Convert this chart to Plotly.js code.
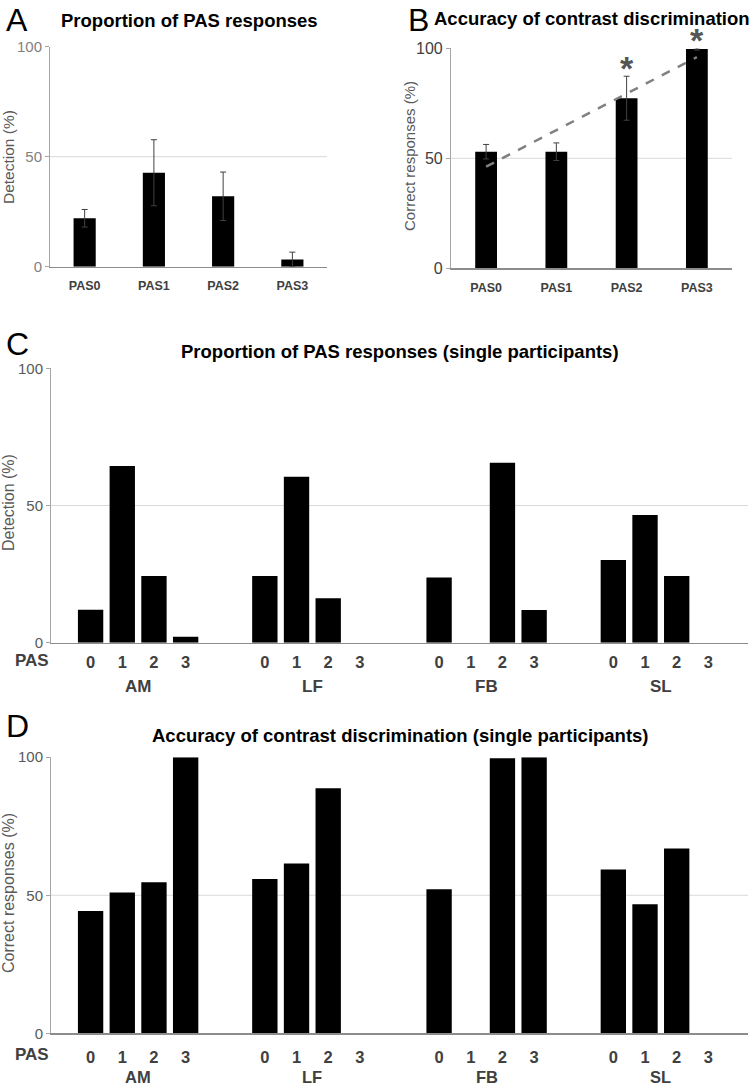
<!DOCTYPE html>
<html>
<head>
<meta charset="utf-8">
<script src="https://cdn.plot.ly/plotly-3.0.1.min.js"></script>
<style>
  html, body { margin: 0; padding: 0; background: #fff; }
  #fig { width: 750px; height: 1088px; }
</style>
</head>
<body>
<div id="fig"></div>
<script>
/* ---------- data ---------- */
const pasCats = ["PAS0", "PAS1", "PAS2", "PAS3"];

// A: proportion of PAS responses (group mean + error)
const detectA = [22, 42.7, 32, 3.3];
const detectErrA = [4, 15, 11, 3.3];

// B: accuracy of contrast discrimination (group mean + error)
const correctB = [53, 53, 77.3, 99.7];
const correctErrB = [3.3, 4, 10, 0.5];
const trendCatsB = ["PAS0", "PAS3"];
const trendB = [46.2, 96];
const starCatsB = ["PAS2", "PAS3"];

// C / D: single participants
const participants = ["AM", "LF", "FB", "SL"];
const pasLevels = ["0", "1", "2", "3"];

const detC_AM = [12, 64.4, 24.3, 2.2];
const detC_LF = [24.3, 60.5, 16.2, 0];
const detC_FB = [23.8, 0, 65.6, 11.9];
const detC_SL = [30.1, 46.5, 24.3, 0];

const accD_AM = [44.3, 51, 54.7, 100];
const accD_LF = [55.9, 61.5, 88.8, null];
const accD_FB = [52.2, null, 99.6, 100];
const accD_SL = [59.3, 46.7, 66.9, null];

/* ---------- helpers ---------- */
const FONT = "Liberation Sans, Arial, sans-serif";
const GROUP_STEP = 5.5; // bar slots per participant group (4 bars + gap)
const PX_PER_UNIT_B = 2.2; // panel B plot height / 100

function groupX(g, k) {
  return g * GROUP_STEP + k;
}

function flatPositions() {
  const xs = [];
  participants.forEach((p, g) => pasLevels.forEach((l, k) => xs.push(groupX(g, k))));
  return xs;
}

const barMarker = { color: "#000", line: { width: 0 } };

/* ---------- traces ---------- */
const traces = [];

// A
traces.push({
  type: "bar", x: pasCats, y: detectA, xaxis: "x", yaxis: "y",
  width: 0.32, marker: barMarker,
  error_y: { type: "data", array: detectErrA, visible: true, color: "#404040", thickness: 1, width: 3 },
  hoverinfo: "skip"
});

// B
traces.push({
  type: "bar", x: pasCats, y: correctB, xaxis: "x2", yaxis: "y2",
  width: 0.31, marker: barMarker,
  error_y: { type: "data", array: correctErrB, visible: true, color: "#404040", thickness: 1, width: 3 },
  hoverinfo: "skip"
});
traces.push({
  type: "scatter", mode: "lines", x: trendCatsB, y: trendB, xaxis: "x2", yaxis: "y2",
  line: { color: "#808080", width: 2.5, dash: "dash" }, hoverinfo: "skip"
});

// C
traces.push({
  type: "bar", x: flatPositions(), y: [].concat(detC_AM, detC_LF, detC_FB, detC_SL),
  xaxis: "x3", yaxis: "y3", width: 0.8, marker: barMarker, hoverinfo: "skip"
});

// D
traces.push({
  type: "bar", x: flatPositions(), y: [].concat(accD_AM, accD_LF, accD_FB, accD_SL),
  xaxis: "x4", yaxis: "y4", width: 0.8, marker: barMarker, hoverinfo: "skip"
});

/* ---------- axes ---------- */
function catAxis(domain, anchor) {
  return {
    domain: domain, anchor: anchor, type: "category",
    showline: true, linecolor: "#8c8c8c", linewidth: 1.5,
    ticks: "", showgrid: false, zeroline: false, fixedrange: true,
    tickfont: { family: FONT, size: 12.5, color: "#404040", weight: "bold" },
    ticklabelstandoff: 7
  };
}

function valAxis(domain, anchor, color, size) {
  return {
    domain: domain, anchor: anchor, range: [0, 100],
    tickvals: [0, 50, 100], ticktext: ["0", "50", "100"],
    showline: true, linecolor: "#a6a6a6", linewidth: 1,
    ticks: "outside", ticklen: 4, tickcolor: "#a6a6a6",
    showgrid: false, zeroline: false, fixedrange: true,
    tickfont: { family: FONT, size: size, color: color }
  };
}

function groupAxis(domain, anchor, standoff) {
  return {
    domain: domain, anchor: anchor, range: [-1.25, 3 * GROUP_STEP + 4.25],
    tickvals: flatPositions(),
    ticktext: [].concat(...participants.map(() => pasLevels)),
    showline: true, linecolor: "#8c8c8c", linewidth: 1.5,
    ticks: "", showgrid: false, zeroline: false, fixedrange: true,
    tickfont: { family: FONT, size: 16.5, color: "#404040", weight: "bold" },
    ticklabelstandoff: standoff
  };
}

/* ---------- annotations ---------- */
const annotations = [];

function paperText(text, px, py, opts) {
  annotations.push(Object.assign({
    text: text, xref: "paper", yref: "paper",
    x: px / 750, y: 1 - py / 1088,
    showarrow: false, xanchor: "center", yanchor: "middle",
    font: { family: FONT, size: 16, color: "#000" }
  }, opts || {}));
}

// panel letters
const letterFont = { family: FONT, size: 32, color: "#000" };
paperText("A", 4, 0, { xanchor: "left", yanchor: "top", font: letterFont });
paperText("B", 406, 0, { xanchor: "left", yanchor: "top", font: letterFont });
paperText("C", 4, 344, { xanchor: "left", font: letterFont });
paperText("D", 4, 726, { xanchor: "left", font: letterFont });

// titles
const titleFont = { family: FONT, size: 18.5, color: "#000", weight: "bold" };
paperText("Proportion of PAS responses", 189, 21, { font: titleFont });
paperText("Accuracy of contrast discrimination", 592, 19, { font: titleFont });
paperText("Proportion of PAS responses (single participants)", 400, 352, { font: titleFont });
paperText("Accuracy of contrast discrimination (single participants)", 400, 735, { font: titleFont });

// y-axis titles
const ylabFont = { family: FONT, size: 16, color: "#595959" };
paperText("Detection (%)", 8, 157, { textangle: -90, font: { family: FONT, size: 15.5, color: "#595959" } });
paperText("Correct responses (%)", 410, 156, { textangle: -90, font: { family: FONT, size: 15, color: "#595959" } });
paperText("Detection (%)", 8, 503, { textangle: -90, font: ylabFont });
paperText("Correct responses (%)", 8, 893, { textangle: -90, font: ylabFont });

// "PAS" row labels for C and D
const rowFont = { family: FONT, size: 17, color: "#404040", weight: "bold" };
paperText("PAS", 32, 660, { font: rowFont });
paperText("PAS", 32, 1054, { font: rowFont });

// participant labels under groups
participants.forEach((p, g) => {
  const cx = groupX(g, 1.5);
  annotations.push({ text: p, xref: "x3", yref: "y3", x: cx, y: 0, yanchor: "middle", yshift: -44,
    showarrow: false, font: rowFont });
  annotations.push({ text: p, xref: "x4", yref: "y4", x: cx, y: 0, yanchor: "middle", yshift: -44,
    showarrow: false, font: { family: FONT, size: 16.5, color: "#404040", weight: "bold" } });
});

// significance stars in B, placed just above each error bar
starCatsB.forEach((c) => {
  const i = pasCats.indexOf(c);
  annotations.push({ text: "*", xref: "x2", yref: "y2", x: c, y: correctB[i],
    yanchor: "bottom", valign: "top", height: 24, borderpad: 0,
    yshift: correctErrB[i] * PX_PER_UNIT_B + 2, showarrow: false,
    font: { family: FONT, size: 34, color: "#555", weight: "bold" } });
});

/* ---------- gridline at 50 ---------- */
const shapes = ["", "2", "3", "4"].map((s) => ({
  type: "line", xref: "x" + s + " domain", yref: "y" + s,
  x0: 0, x1: 1, y0: 50, y1: 50, layer: "below",
  line: { color: "#d9d9d9", width: 1 }
}));

/* ---------- layout ---------- */
const layout = {
  width: 750, height: 1088,
  margin: { l: 0, r: 0, t: 0, b: 0 },
  paper_bgcolor: "#fff", plot_bgcolor: "#fff",
  showlegend: false,
  font: { family: FONT },
  xaxis: catAxis([0.0667, 0.436], "y"),
  yaxis: valAxis([0.7549, 0.9571], "x", "#7f7f7f", 15),
  xaxis2: catAxis([0.6013, 0.976], "y2"),
  yaxis2: valAxis([0.7534, 0.9556], "x2", "#404040", 16),
  xaxis3: groupAxis([0.068, 0.9973], "y3", 4),
  yaxis3: valAxis([0.4093, 0.6615], "x3", "#595959", 15),
  xaxis4: groupAxis([0.068, 0.9973], "y4", 8),
  yaxis4: valAxis([0.0503, 0.3040], "x4", "#595959", 15),
  annotations: annotations,
  shapes: shapes
};

Plotly.newPlot("fig", traces, layout, { staticPlot: true, displayModeBar: false });
</script>
</body>
</html>
